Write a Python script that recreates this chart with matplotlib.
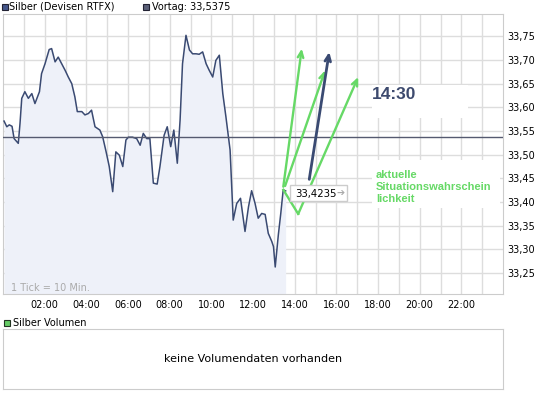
import matplotlib
matplotlib.use("Agg")
import matplotlib.pyplot as plt
from matplotlib.patches import Rectangle

# Silber intraday, 1 tick = 10 min (minutes after midnight, price)
minutes = [3, 11, 18, 26, 32, 44, 49, 54, 63, 73,
           83, 92, 105, 111, 121, 133, 140, 150, 159, 169,
           179, 188, 198, 207, 214, 227, 236, 246, 255, 265,
           279, 287, 297, 306, 316, 325, 335, 345, 354, 361,
           373, 385, 395, 404, 414, 423, 433, 444, 452, 464,
           473, 483, 492, 502, 510, 517, 527, 537, 546, 556,
           565, 575, 585, 594, 604, 613, 623, 633, 642, 654,
           663, 673, 684, 697, 707, 716, 726, 735, 745, 755,
           764, 774, 779, 784, 793, 800, 807, 814]
prices = [33.571, 33.559, 33.563, 33.560, 33.534, 33.524, 33.566, 33.619, 33.633, 33.619,
          33.629, 33.608, 33.633, 33.671, 33.692, 33.722, 33.724, 33.696, 33.706, 33.692,
          33.678, 33.664, 33.650, 33.622, 33.591, 33.591, 33.584, 33.587, 33.594, 33.559,
          33.552, 33.538, 33.506, 33.475, 33.422, 33.506, 33.499, 33.475, 33.531, 33.537,
          33.537, 33.534, 33.520, 33.545, 33.534, 33.534, 33.440, 33.438, 33.475, 33.541,
          33.559, 33.517, 33.552, 33.482, 33.573, 33.692, 33.752, 33.721, 33.713, 33.713,
          33.712, 33.717, 33.692, 33.678, 33.664, 33.699, 33.710, 33.629, 33.580, 33.510,
          33.362, 33.397, 33.408, 33.338, 33.390, 33.424, 33.397, 33.366, 33.376, 33.374,
          33.334, 33.317, 33.306, 33.263, 33.331, 33.376, 33.426, 33.4235]
vortag = 33.5375
last_price = "33,4235"

y_ticks = [33.25, 33.30, 33.35, 33.40, 33.45, 33.50, 33.55, 33.60, 33.65, 33.70, 33.75]
x_ticks = [2, 4, 6, 8, 10, 12, 14, 16, 18, 20, 22]

# hand drawn arrows (hours, price)
green_arrows = [((13.455, 33.4325), (14.34, 33.724)),
                ((13.54, 33.434), (15.46, 33.678))]
green_v = [(13.455, 33.426), (14.17, 33.375), (17.05, 33.664)]
navy_arrow = ((14.70, 33.448), (15.66, 33.717))

W, H = 545, 398
navy = "#3a4a72"
green = "#66d966"
gridc = "#dddddd"
borderc = "#cccccc"

fig = plt.figure(figsize=(W / 100, H / 100), dpi=100)


def px_axes(x0, y0, x1, y1):
    return fig.add_axes([x0 / W, 1 - y1 / H, (x1 - x0) / W, (y1 - y0) / H])


ax = px_axes(3, 14, 503, 294)
hours = [m / 60 for m in minutes]
ax.set_xlim(0, 24)
ax.set_ylim(33.206, 33.797)

for h in range(1, 24):
    ax.axvline(h, color=gridc, lw=1, zorder=0)
for v in y_ticks:
    ax.axhline(v, color=gridc, lw=1, zorder=0)

ax.fill_between(hours, prices, 33.206, color="#eef1f9", lw=0, zorder=1)
ax.plot(hours, prices, color=navy, lw=1.1, zorder=3)
ax.axhline(vortag, color="#555a70", lw=1, zorder=3)

ax.set_yticks(y_ticks)
ax.set_yticklabels([f"{v:.2f}".replace(".", ",") for v in y_ticks])
ax.set_xticks(x_ticks)
ax.set_xticklabels([f"{h:02d}:00" for h in x_ticks])
ax.yaxis.tick_right()
ax.tick_params(axis="both", length=0, labelsize=7, colors="black")
ax.tick_params(axis="y", pad=3)
ax.tick_params(axis="x", pad=4)
for s in ax.spines.values():
    s.set_color(borderc)

ax.text(8 / 500, 6 / 280, "1 Tick = 10 Min.", transform=ax.transAxes,
        fontsize=7, color="#aaaaaa", va="center", ha="left")


def box(x0, y0, x1, y1, **kw):
    ax.add_patch(Rectangle(((x0 - 3) / 500, (294 - y1) / 280), (x1 - x0) / 500,
                           (y1 - y0) / 280, transform=ax.transAxes, **kw))


# white boxes behind annotations
box(372, 85, 468, 118, facecolor="white", edgecolor="none", zorder=2)
box(372, 160, 500, 208, facecolor="white", edgecolor="none", zorder=2)
box(290, 185, 347, 201, facecolor="white", edgecolor=borderc, lw=1, zorder=6)

ax.text((295 - 3) / 500, (294 - 193.5) / 280, last_price, transform=ax.transAxes,
        fontsize=7.3, va="center", ha="left", zorder=7)
ax.text((336 - 3) / 500, (294 - 193.5) / 280, "\u2794", transform=ax.transAxes,
        fontsize=7, color="#aaaaaa", va="center", ha="left", zorder=7)

aprops = dict(arrowstyle="->,head_length=0.45,head_width=0.2", lw=1.7,
              shrinkA=0, shrinkB=0)
for start, tip in green_arrows:
    ax.annotate("", xy=tip, xytext=start, arrowprops=dict(color=green, **aprops), zorder=5)
ax.plot([p[0] for p in green_v[:2]], [p[1] for p in green_v[:2]], color=green, lw=1.7, zorder=5)
ax.annotate("", xy=green_v[2], xytext=green_v[1], arrowprops=dict(color=green, **aprops), zorder=5)
ax.annotate("", xy=navy_arrow[1], xytext=navy_arrow[0],
            arrowprops=dict(color=navy, **dict(aprops, lw=2.0)), zorder=5)

ax.text((372 - 3) / 500, (294 - 94.5) / 280, "14:30", transform=ax.transAxes,
        fontsize=12.5, fontweight="bold", family="Liberation Sans", color="#3d4a6e",
        va="center", ha="left", zorder=6)
ax.text((376 - 3) / 500, (294 - 170.5) / 280, "aktuelle\nSituationswahrschein\nlichkeit",
        transform=ax.transAxes, fontsize=8, fontweight="bold", family="Liberation Sans",
        color=green, va="top", ha="left", linespacing=1.25, zorder=6)

# legend row at top
fig.patches.append(Rectangle((1.5 / W, 1 - 9.5 / H), 6 / W, 6 / H, transform=fig.transFigure,
                             facecolor="#44568a", edgecolor="#222233", lw=0.8))
fig.text(9 / W, 1 - 6.5 / H, "Silber (Devisen RTFX)", fontsize=7, va="center", ha="left")
fig.patches.append(Rectangle((142.5 / W, 1 - 9.5 / H), 6 / W, 6 / H, transform=fig.transFigure,
                             facecolor="#5b6078", edgecolor="#222233", lw=0.8))
fig.text(152 / W, 1 - 6.5 / H, "Vortag: 33,5375", fontsize=7, va="center", ha="left")

# volume panel
fig.patches.append(Rectangle((4 / W, 1 - 325.5 / H), 6 / W, 6 / H, transform=fig.transFigure,
                             facecolor="#66cc66", edgecolor="#223322", lw=0.8))
fig.text(13 / W, 1 - 322.5 / H, "Silber Volumen", fontsize=7, va="center", ha="left")

vax = px_axes(3, 329, 503, 389)
vax.set_xticks([])
vax.set_yticks([])
for s in vax.spines.values():
    s.set_color(borderc)
vax.text(0.5, 0.5, "keine Volumendaten vorhanden", transform=vax.transAxes,
         fontsize=8, ha="center", va="center")

fig.savefig("out.png", dpi=100)
